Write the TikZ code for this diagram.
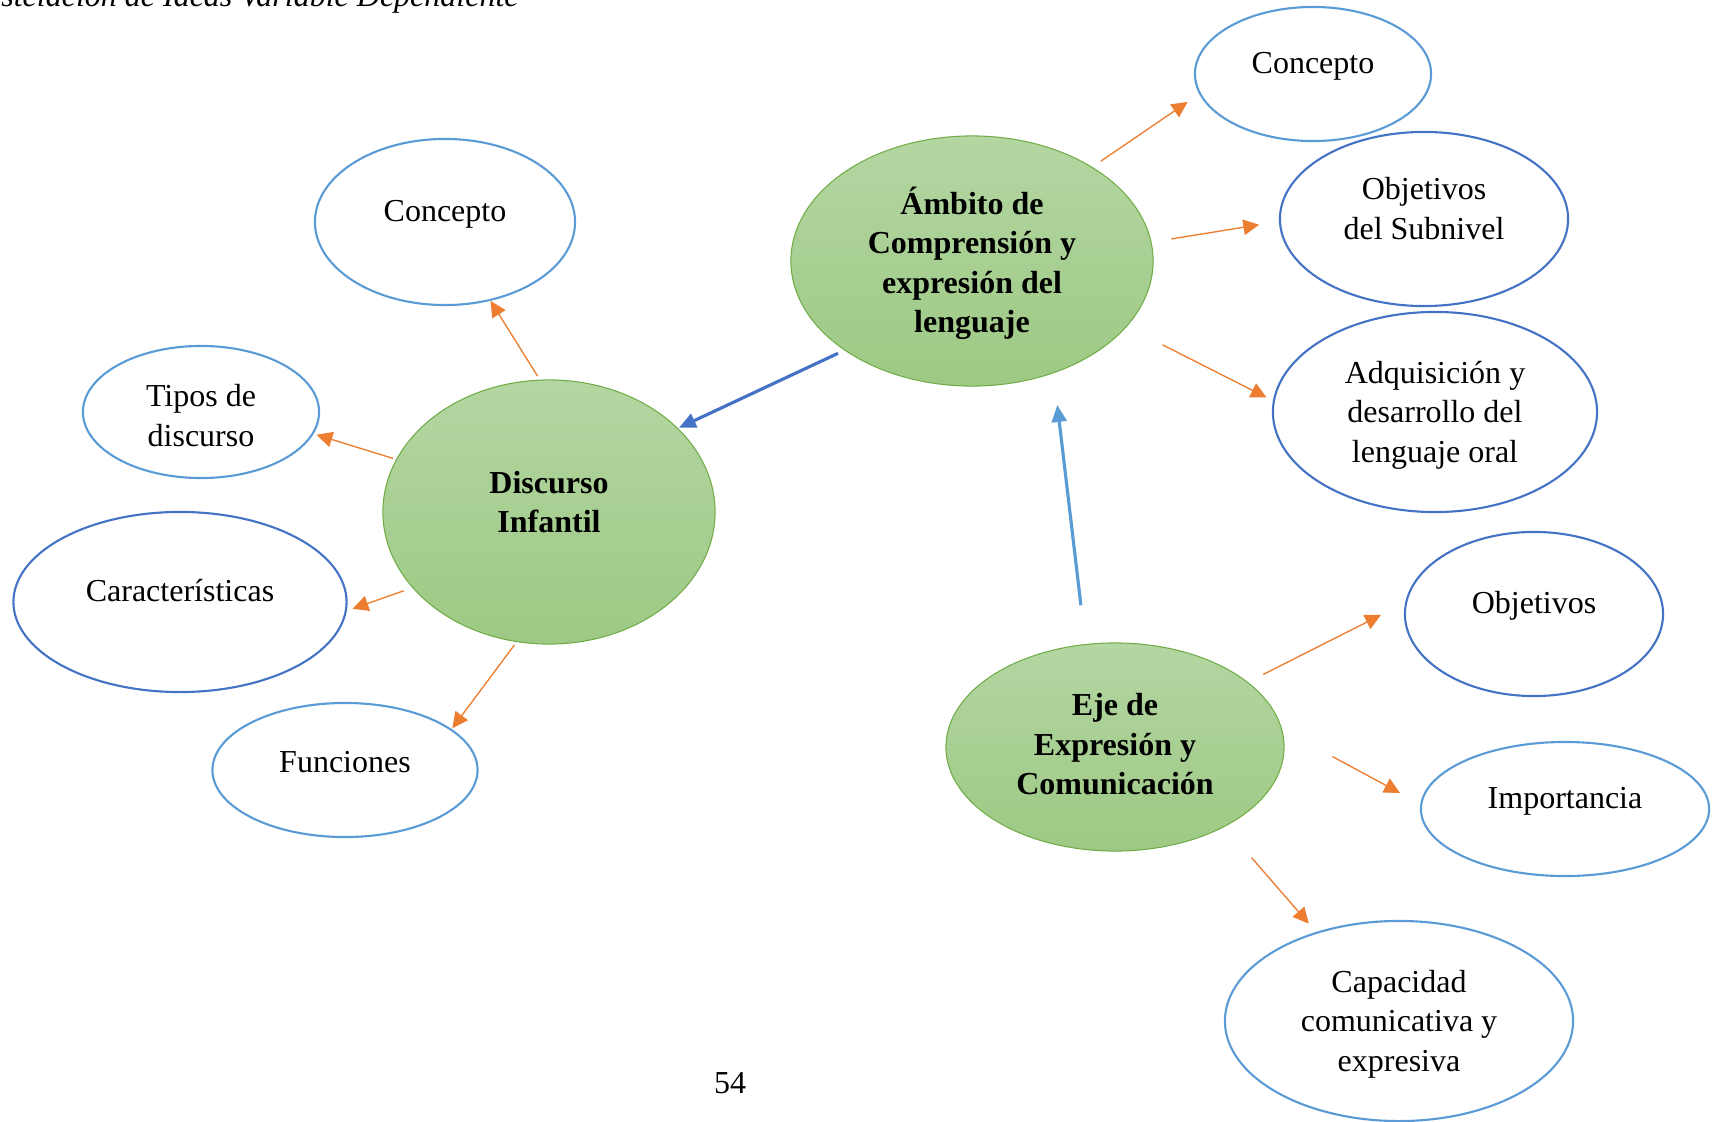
\documentclass[tikz,border=0pt]{standalone}
\usepackage{fontspec}
\setmainfont{Liberation Serif}
\usetikzlibrary{arrows.meta,shapes.geometric}
\definecolor{lineBlue}{HTML}{5B9BD5}
\definecolor{darkBlue}{HTML}{4472C4}
\definecolor{arrowOrange}{HTML}{ED7D31}
\definecolor{leafGreen}{HTML}{70AD47}
\definecolor{greenTop}{RGB}{180,214,162}
\definecolor{greenBottom}{RGB}{157,201,132}
\begin{document}
\begin{tikzpicture}[x=0.01cm,y=-0.01cm,
  txt/.style={align=center,font=\fontsize{9.1}{11.2}\selectfont},
  boldTxt/.style={align=center,font=\fontsize{9.1}{11.2}\selectfont\bfseries},
  lightOval/.style={ellipse,inner sep=0pt,draw=lineBlue,line width=0.6pt},
  darkOval/.style={ellipse,inner sep=0pt,draw=darkBlue,line width=0.6pt},
  greenOval/.style={ellipse,inner sep=0pt,draw=leafGreen,line width=0.3pt,
    top color=greenTop,bottom color=greenBottom},
  subArrow/.style={draw=arrowOrange,line width=0.38pt,-{Triangle[length=4.5pt,width=4.4pt]}},
  mainArrow/.style={line width=0.9pt,-{Triangle[length=4.8pt,width=4.2pt]}}
]
  \useasboundingbox (0,0) rectangle (1718,1121);

  \node[greenOval,minimum width=3.62cm,minimum height=2.50cm] (amb) at (972,261) {};
  \node[greenOval,minimum width=3.32cm,minimum height=2.64cm] (dis) at (549,512) {};
  \node[greenOval,minimum width=3.38cm,minimum height=2.08cm] (eje) at (1115,747) {};

  \node[lightOval,minimum width=2.36cm,minimum height=1.34cm] (conA) at (1313,74) {};
  \node[darkOval,minimum width=2.88cm,minimum height=1.74cm] (obSub) at (1424,219) {};
  \node[darkOval,minimum width=3.24cm,minimum height=2.00cm] (adq) at (1435,412) {};
  \node[darkOval,minimum width=2.58cm,minimum height=1.64cm] (obj) at (1534,614) {};
  \node[lightOval,minimum width=2.88cm,minimum height=1.34cm] (imp) at (1565,809) {};
  \node[lightOval,minimum width=3.48cm,minimum height=2.00cm] (cap) at (1399,1021) {};
  \node[lightOval,minimum width=2.60cm,minimum height=1.66cm] (conB) at (445,222) {};
  \node[lightOval,minimum width=2.36cm,minimum height=1.32cm] (tip) at (201,412) {};
  \node[darkOval,minimum width=3.33cm,minimum height=1.80cm] (car) at (180,602) {};
  \node[lightOval,minimum width=2.65cm,minimum height=1.34cm] (fun) at (345,770) {};

  % texts
  \node[boldTxt] (ambText) at ([yshift=-0.6pt]amb) {Ámbito de\\Comprensión y\\expresión del\\lenguaje};
  \node[boldTxt] (disText) at ([yshift=2.8pt]dis) {Discurso\\Infantil};
  \node[boldTxt] (ejeText) at ([yshift=0.8pt]eje) {Eje de\\Expresión y\\Comunicación};
  \node[txt] (conAText) at ([yshift=2.1pt]conA) {Concepto};
  \node[txt] (obSubText) at ([yshift=3pt]obSub) {Objetivos\\del Subnivel};
  \node[txt] (adqText) at ([yshift=-0.9pt]adq) {Adquisición y\\desarrollo del\\lenguaje oral};
  \node[txt] (objText) at ([yshift=2.3pt]obj) {Objetivos};
  \node[txt] (impText) at ([yshift=2.1pt]imp) {Importancia};
  \node[txt] (capText) at ([yshift=-0.9pt]cap) {Capacidad\\comunicativa y\\expresiva};
  \node[txt] (conBText) at ([yshift=2.1pt]conB) {Concepto};
  \node[txt] (tipText) at ([yshift=-1pt]tip) {Tipos de\\discurso};
  \node[txt] (carText) at ([yshift=3.3pt]car) {Características};
  \node[txt] (funText) at ([yshift=2.4pt]fun) {Funciones};

  \node[txt,font=\fontsize{9.1}{11.2}\selectfont\itshape,anchor=base east] (caption) at (531,7) {Constelación de Ideas Variable Dependiente};
  \node[txt,anchor=base] (pageNum) at (730,1093) {54};

  \draw[subArrow,shorten <=0.10cm,shorten >=0.14cm] (amb.38.6) -- (conA.190.6);
  \draw[subArrow,shorten <=0.20cm,shorten >=0.20cm] (amb.6) -- (obSub.181);
  \draw[subArrow,shorten <=0.40cm,shorten >=0.07cm] (amb.-23.6) -- (adq.176);
  \draw[mainArrow,darkBlue,shorten <=0.07cm,shorten >=0.01cm] (amb.215) -- (dis.33);
  \draw[mainArrow,lineBlue,shorten <=0.39cm,shorten >=0.32cm] (eje.106.5) -- (amb.-54.6);
  \draw[subArrow,shorten <=0.17cm,shorten >=0.27cm] (eje.26) -- (obj.175.6);
  \draw[subArrow,shorten <=0.57cm,shorten >=0.23cm] (eje.6.8) -- (imp.178.6);
  \draw[subArrow,shorten <=0.41cm,shorten >=0.11cm] (eje.-36.6) -- (cap.133.2);
  \draw[subArrow,shorten <=0.04cm] (dis.94) -- (conB.-60);
  \draw[subArrow,shorten <=0.03cm,shorten >=0.03cm] (dis.161) -- (tip.-11);
  \draw[subArrow,shorten <=0.09cm,shorten >=0.06cm] (dis.209) -- (car.-3.5);
  \draw[subArrow,shorten <=0.035cm,shorten >=0.01cm] (dis.256) -- (fun.21);

\end{tikzpicture}
\end{document}
